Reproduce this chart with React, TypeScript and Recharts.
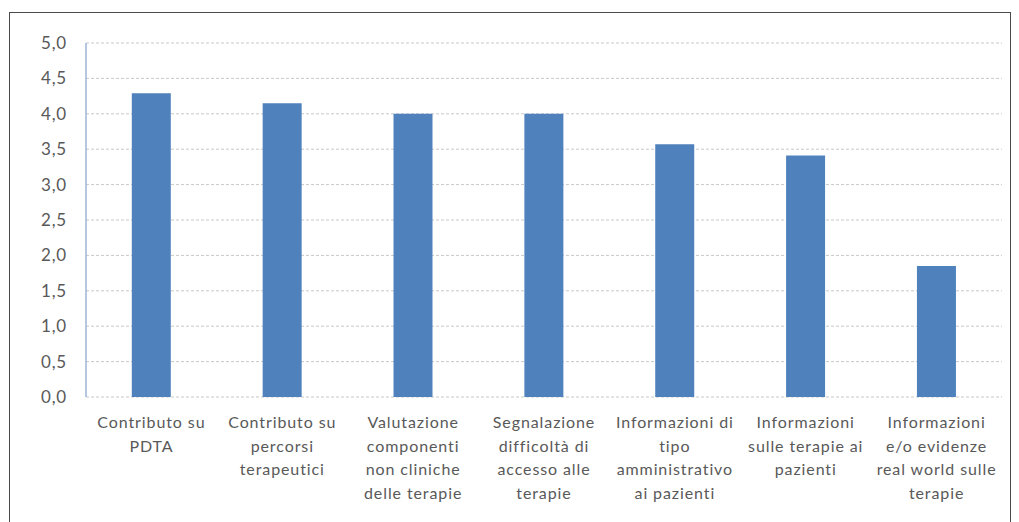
import React from 'react';
import { BarChart, Bar, XAxis, YAxis, CartesianGrid } from 'recharts';

const categories = [
    'Contributo su\nPDTA',
    'Contributo su\npercorsi\nterapeutici',
    'Valutazione\ncomponenti\nnon cliniche\ndelle terapie',
    'Segnalazione\ndifficoltà di\naccesso alle\nterapie',
    'Informazioni di\ntipo\namministrativo\nai pazienti',
    'Informazioni\nsulle terapie ai\npazienti',
    'Informazioni\ne/o evidenze\nreal world sulle\nterapie',
];
const scores = [4.29, 4.15, 4.0, 4.0, 3.57, 3.41, 1.85];
const yTicks = [0, 0.5, 1, 1.5, 2, 2.5, 3, 3.5, 4, 4.5, 5];

const chartData = categories.map((name, i) => ({ name, value: scores[i] }));

const FONT = 'Lato, "Open Sans", sans-serif';
const TEXT = '#595959';

const CategoryTick = (props: any) => {
    const { x, y, payload } = props;
    const lines = String(payload.value).split('\n');
    return (
        <text x={x} y={y} textAnchor="middle" fill={TEXT} fontSize={16} letterSpacing={0.9} fontFamily={FONT}>
            {lines.map((line, i) => (
                <tspan key={i} x={x} dy={i === 0 ? 31 : 23.5}>
                    {line}
                </tspan>
            ))}
        </text>
    );
};

const App = () => {
    return (
        <div style={{ position: 'absolute', left: 0, top: 0, width: 1019, height: 522, overflow: 'hidden', background: '#fff' }}>
            <div
                style={{
                    position: 'absolute',
                    left: 9,
                    top: 12,
                    width: 1000,
                    height: 530,
                    border: '1px solid #4a4a4a',
                }}
            />
            <div style={{ position: 'absolute', left: 0, top: 0 }}>
                <BarChart
                    width={1019}
                    height={522}
                    data={chartData}
                    margin={{ top: 43, right: 17, bottom: 5, left: 0 }}
                    barCategoryGap="35%"
                >
                    <CartesianGrid vertical={false} stroke="#C8C8C8" strokeDasharray="3 2" />
                    <XAxis
                        dataKey="name"
                        interval={0}
                        height={120}
                        axisLine={false}
                        tickLine={false}
                        tickSize={0}
                        tickMargin={0}
                        tick={<CategoryTick />}
                    />
                    <YAxis
                        width={86}
                        domain={[0, 5]}
                        ticks={yTicks}
                        tickFormatter={(v: number) => v.toFixed(1).replace('.', ',')}
                        axisLine={{ stroke: '#9DB5D6', strokeWidth: 1.5 }}
                        tickLine={false}
                        tickSize={0}
                        tickMargin={19}
                        tick={{ fill: TEXT, fontSize: 17, letterSpacing: 0.8, fontFamily: FONT }}
                    />
                    <Bar dataKey="value" fill="#4F81BD" isAnimationActive={false} />
                </BarChart>
            </div>
        </div>
    );
};

export default App;
